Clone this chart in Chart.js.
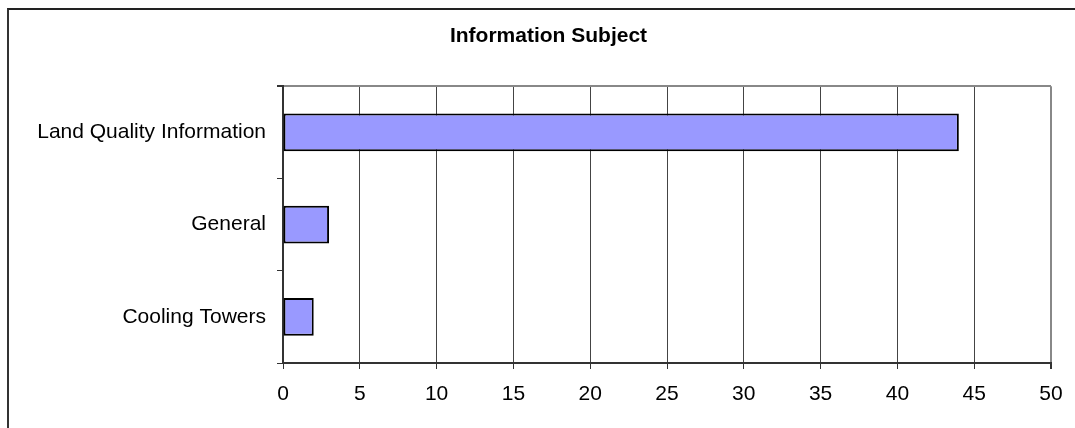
<!DOCTYPE html>
<html>
<head>
<meta charset="utf-8">
<script src="https://cdn.jsdelivr.net/npm/chart.js@4"></script>
<style>
  body { margin: 0; background: #fff; }
  #frame { position: absolute; left: 7px; top: 8px; right: 0; bottom: 0; border-left: 2px solid #333; border-top: 2px solid #222; }
  #wrap { position: absolute; left: 0; top: 0; width: 1075px; height: 428px; }
</style>
</head>
<body>
<div id="frame"></div>
<div id="wrap"><canvas id="canvas" width="1075" height="428"></canvas></div>
<script>
const categories = ['Land Quality Information', 'General', 'Cooling Towers'];
const counts = [44, 3, 2];
const xTicks = [0, 5, 10, 15, 20, 25, 30, 35, 40, 45, 50];

Chart.defaults.font.family = '"Liberation Sans", Arial, sans-serif';
Chart.defaults.color = '#000';

const ctx = document.getElementById('canvas').getContext('2d');

const myChart = new Chart(ctx, {
    type: 'bar',
    data: {
        labels: categories,
        datasets: [{
            label: 'Information Subject',
            data: counts,
            backgroundColor: '#9999ff',
            borderColor: '#000',
            borderWidth: 2,
            borderSkipped: false,
            categoryPercentage: 1,
            barPercentage: 0.41
        }]
    },
    options: {
        indexAxis: 'y',
        responsive: false,
        animation: false,
        layout: { padding: { left: 22, right: 0, top: 0, bottom: 0 } },
        plugins: {
            legend: { display: false },
            tooltip: { enabled: false },
            title: {
                display: true,
                text: 'Information Subject',
                color: '#000',
                font: { size: 21, weight: 'bold' },
                padding: { top: 24, bottom: 37 }
            }
        },
        scales: {
            x: {
                min: 0,
                max: 50,
                afterBuildTicks: (scale) => { scale.ticks = xTicks.map(v => ({ value: v })); },
                afterFit: (scale) => { scale.height = 65; scale.paddingLeft = 0; scale.paddingRight = 0; },
                ticks: { font: { size: 21 }, padding: 13, color: '#000' },
                grid: {
                    color: (c) => (c.tick && c.tick.value === 50) ? '#888' : '#444',
                    lineWidth: (c) => (c.tick && c.tick.value === 50) ? 2 : 1,
                    tickColor: '#333',
                    tickLength: 6
                },
                border: { color: '#333', width: 2 }
            },
            y: {
                afterFit: (scale) => { scale.width = 261; scale.paddingTop = 0; scale.paddingBottom = 0; },
                ticks: { font: { size: 21 }, padding: 11, color: '#000' },
                grid: {
                    offset: true,
                    color: (c) => c.index === 0 ? '#888' : 'rgba(0,0,0,0)',
                    lineWidth: (c) => c.index === 0 ? 2 : 1,
                    tickColor: '#333',
                    tickLength: 6
                },
                border: { color: '#333', width: 2 }
            },
            // empty spacer on the right so the plot ends where the reference does
            spacer: {
                type: 'linear',
                position: 'right',
                afterFit: (scale) => { scale.width = 24; },
                grid: { display: false },
                ticks: { display: false },
                border: { display: false }
            }
        }
    }
});
</script>
</body>
</html>
